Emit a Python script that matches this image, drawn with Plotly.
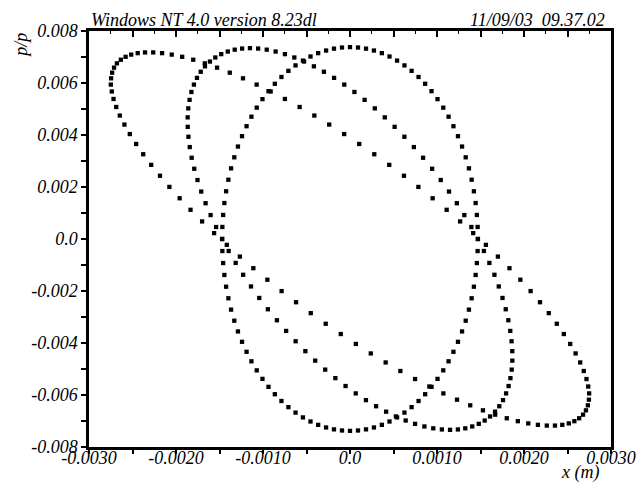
import plotly.graph_objects as go

# Phase-space ellipses: position x (m) against relative momentum p/p
# Ellipse 1: upright ellipse at the waist
x1 = [1.470e-3, 1.467e-3, 1.458e-3, 1.444e-3, 1.424e-3, 1.398e-3, 1.367e-3, 1.330e-3, 1.288e-3, 1.241e-3,
      1.189e-3, 1.133e-3, 1.072e-3, 1.006e-3, 0.937e-3, 0.864e-3, 0.788e-3, 0.708e-3, 0.626e-3, 0.541e-3,
      0.454e-3, 0.366e-3, 0.275e-3, 0.184e-3, 0.092e-3, 0.000e-3,
      -0.092e-3, -0.184e-3, -0.275e-3, -0.366e-3, -0.454e-3, -0.541e-3, -0.626e-3, -0.708e-3, -0.788e-3, -0.864e-3,
      -0.937e-3, -1.006e-3, -1.072e-3, -1.133e-3, -1.189e-3, -1.241e-3, -1.288e-3, -1.330e-3, -1.367e-3, -1.398e-3,
      -1.424e-3, -1.444e-3, -1.458e-3, -1.467e-3, -1.470e-3,
      -1.467e-3, -1.458e-3, -1.444e-3, -1.424e-3, -1.398e-3, -1.367e-3, -1.330e-3, -1.288e-3, -1.241e-3, -1.189e-3,
      -1.133e-3, -1.072e-3, -1.006e-3, -0.937e-3, -0.864e-3, -0.788e-3, -0.708e-3, -0.626e-3, -0.541e-3, -0.454e-3,
      -0.366e-3, -0.275e-3, -0.184e-3, -0.092e-3, 0.000e-3,
      0.092e-3, 0.184e-3, 0.275e-3, 0.366e-3, 0.454e-3, 0.541e-3, 0.626e-3, 0.708e-3, 0.788e-3, 0.864e-3,
      0.937e-3, 1.006e-3, 1.072e-3, 1.133e-3, 1.189e-3, 1.241e-3, 1.288e-3, 1.330e-3, 1.367e-3, 1.398e-3,
      1.424e-3, 1.444e-3, 1.458e-3, 1.467e-3]
y1 = [0.000e-3, 0.463e-3, 0.925e-3, 1.383e-3, 1.835e-3, 2.280e-3, 2.717e-3, 3.142e-3, 3.556e-3, 3.954e-3,
      4.338e-3, 4.704e-3, 5.052e-3, 5.380e-3, 5.686e-3, 5.970e-3, 6.231e-3, 6.467e-3, 6.677e-3, 6.862e-3,
      7.019e-3, 7.148e-3, 7.249e-3, 7.322e-3, 7.365e-3, 7.380e-3,
      7.365e-3, 7.322e-3, 7.249e-3, 7.148e-3, 7.019e-3, 6.862e-3, 6.677e-3, 6.467e-3, 6.231e-3, 5.970e-3,
      5.686e-3, 5.380e-3, 5.052e-3, 4.704e-3, 4.338e-3, 3.954e-3, 3.556e-3, 3.142e-3, 2.717e-3, 2.280e-3,
      1.835e-3, 1.383e-3, 0.925e-3, 0.463e-3, 0.000e-3,
      -0.463e-3, -0.925e-3, -1.383e-3, -1.835e-3, -2.280e-3, -2.717e-3, -3.142e-3, -3.556e-3, -3.954e-3, -4.338e-3,
      -4.704e-3, -5.052e-3, -5.380e-3, -5.686e-3, -5.970e-3, -6.231e-3, -6.467e-3, -6.677e-3, -6.862e-3, -7.019e-3,
      -7.148e-3, -7.249e-3, -7.322e-3, -7.365e-3, -7.380e-3,
      -7.365e-3, -7.322e-3, -7.249e-3, -7.148e-3, -7.019e-3, -6.862e-3, -6.677e-3, -6.467e-3, -6.231e-3, -5.970e-3,
      -5.686e-3, -5.380e-3, -5.052e-3, -4.704e-3, -4.338e-3, -3.954e-3, -3.556e-3, -3.142e-3, -2.717e-3, -2.280e-3,
      -1.835e-3, -1.383e-3, -0.925e-3, -0.463e-3]

# Ellipse 2: strongly tilted ellipse
x2 = [1.416e-3, 1.266e-3, 1.111e-3, 0.950e-3, 0.786e-3, 0.620e-3, 0.451e-3, 0.279e-3, 0.106e-3, -0.067e-3,
      -0.239e-3, -0.410e-3, -0.579e-3, -0.748e-3, -0.912e-3, -1.073e-3, -1.230e-3, -1.382e-3, -1.528e-3, -1.669e-3,
      -1.802e-3, -1.929e-3, -2.049e-3, -2.160e-3, -2.262e-3,
      -2.356e-3, -2.440e-3, -2.515e-3, -2.579e-3, -2.634e-3, -2.679e-3, -2.712e-3, -2.734e-3, -2.746e-3, -2.749e-3,
      -2.738e-3, -2.718e-3, -2.687e-3, -2.646e-3, -2.593e-3, -2.531e-3, -2.458e-3, -2.377e-3, -2.285e-3, -2.184e-3,
      -2.076e-3, -1.958e-3, -1.833e-3, -1.700e-3, -1.562e-3,
      -1.416e-3, -1.266e-3, -1.111e-3, -0.950e-3, -0.786e-3, -0.620e-3, -0.451e-3, -0.279e-3, -0.106e-3, 0.067e-3,
      0.239e-3, 0.410e-3, 0.579e-3, 0.748e-3, 0.912e-3, 1.073e-3, 1.230e-3, 1.382e-3, 1.528e-3, 1.669e-3,
      1.802e-3, 1.929e-3, 2.049e-3, 2.160e-3, 2.262e-3,
      2.356e-3, 2.440e-3, 2.515e-3, 2.579e-3, 2.634e-3, 2.679e-3, 2.712e-3, 2.734e-3, 2.746e-3, 2.749e-3,
      2.738e-3, 2.718e-3, 2.687e-3, 2.646e-3, 2.593e-3, 2.531e-3, 2.458e-3, 2.377e-3, 2.285e-3, 2.184e-3,
      2.076e-3, 1.958e-3, 1.833e-3, 1.700e-3, 1.562e-3]
y2 = [0.226e-3, 0.676e-3, 1.123e-3, 1.566e-3, 2.003e-3, 2.432e-3, 2.851e-3, 3.260e-3, 3.655e-3, 4.036e-3,
      4.401e-3, 4.748e-3, 5.077e-3, 5.386e-3, 5.674e-3, 5.939e-3, 6.180e-3, 6.397e-3, 6.590e-3, 6.756e-3,
      6.895e-3, 7.007e-3, 7.092e-3, 7.148e-3, 7.176e-3,
      7.176e-3, 7.148e-3, 7.092e-3, 7.007e-3, 6.895e-3, 6.756e-3, 6.590e-3, 6.397e-3, 6.180e-3, 5.939e-3,
      5.674e-3, 5.386e-3, 5.077e-3, 4.748e-3, 4.401e-3, 4.036e-3, 3.655e-3, 3.260e-3, 2.851e-3, 2.432e-3,
      2.003e-3, 1.566e-3, 1.123e-3, 0.676e-3, 0.226e-3,
      -0.226e-3, -0.676e-3, -1.123e-3, -1.566e-3, -2.003e-3, -2.432e-3, -2.851e-3, -3.260e-3, -3.655e-3, -4.036e-3,
      -4.401e-3, -4.748e-3, -5.077e-3, -5.386e-3, -5.674e-3, -5.939e-3, -6.180e-3, -6.397e-3, -6.590e-3, -6.756e-3,
      -6.895e-3, -7.007e-3, -7.092e-3, -7.148e-3, -7.176e-3,
      -7.176e-3, -7.148e-3, -7.092e-3, -7.007e-3, -6.895e-3, -6.756e-3, -6.590e-3, -6.397e-3, -6.180e-3, -5.939e-3,
      -5.674e-3, -5.386e-3, -5.077e-3, -4.748e-3, -4.401e-3, -4.036e-3, -3.655e-3, -3.260e-3, -2.851e-3, -2.432e-3,
      -2.003e-3, -1.566e-3, -1.123e-3, -0.676e-3, -0.226e-3]

# Ellipse 3: moderately tilted ellipse
x3 = [1.470e-3, 1.395e-3, 1.314e-3, 1.228e-3, 1.138e-3, 1.043e-3, 0.944e-3, 0.840e-3, 0.734e-3, 0.625e-3,
      0.513e-3, 0.400e-3, 0.285e-3, 0.168e-3, 0.051e-3, -0.066e-3, -0.183e-3, -0.300e-3, -0.415e-3, -0.528e-3,
      -0.640e-3, -0.748e-3, -0.855e-3, -0.957e-3, -1.056e-3, -1.150e-3,
      -1.240e-3, -1.325e-3, -1.405e-3, -1.480e-3, -1.548e-3, -1.610e-3, -1.667e-3, -1.716e-3, -1.759e-3, -1.794e-3,
      -1.823e-3, -1.844e-3, -1.859e-3, -1.866e-3, -1.865e-3, -1.857e-3, -1.842e-3, -1.820e-3, -1.790e-3, -1.753e-3,
      -1.710e-3, -1.660e-3, -1.602e-3, -1.539e-3,
      -1.470e-3, -1.395e-3, -1.314e-3, -1.228e-3, -1.138e-3, -1.043e-3, -0.944e-3, -0.840e-3, -0.734e-3, -0.625e-3,
      -0.513e-3, -0.400e-3, -0.285e-3, -0.168e-3, -0.051e-3, 0.066e-3, 0.183e-3, 0.300e-3, 0.415e-3, 0.528e-3,
      0.640e-3, 0.748e-3, 0.855e-3, 0.957e-3, 1.056e-3, 1.150e-3,
      1.240e-3, 1.325e-3, 1.405e-3, 1.480e-3, 1.548e-3, 1.610e-3, 1.667e-3, 1.716e-3, 1.759e-3, 1.794e-3,
      1.823e-3, 1.844e-3, 1.859e-3, 1.866e-3, 1.865e-3, 1.857e-3, 1.842e-3, 1.820e-3, 1.790e-3, 1.753e-3,
      1.710e-3, 1.660e-3, 1.602e-3, 1.539e-3]
y3 = [0.000e-3, 0.461e-3, 0.920e-3, 1.376e-3, 1.825e-3, 2.268e-3, 2.702e-3, 3.125e-3, 3.536e-3, 3.933e-3,
      4.314e-3, 4.679e-3, 5.024e-3, 5.351e-3, 5.655e-3, 5.938e-3, 6.197e-3, 6.432e-3, 6.641e-3, 6.825e-3,
      6.981e-3, 7.110e-3, 7.210e-3, 7.282e-3, 7.325e-3, 7.340e-3,
      7.325e-3, 7.282e-3, 7.210e-3, 7.110e-3, 6.981e-3, 6.825e-3, 6.641e-3, 6.432e-3, 6.197e-3, 5.938e-3,
      5.655e-3, 5.351e-3, 5.024e-3, 4.679e-3, 4.314e-3, 3.933e-3, 3.536e-3, 3.125e-3, 2.702e-3, 2.268e-3,
      1.825e-3, 1.376e-3, 0.920e-3, 0.461e-3,
      0.000e-3, -0.461e-3, -0.920e-3, -1.376e-3, -1.825e-3, -2.268e-3, -2.702e-3, -3.125e-3, -3.536e-3, -3.933e-3,
      -4.314e-3, -4.679e-3, -5.024e-3, -5.351e-3, -5.655e-3, -5.938e-3, -6.197e-3, -6.432e-3, -6.641e-3, -6.825e-3,
      -6.981e-3, -7.110e-3, -7.210e-3, -7.282e-3, -7.325e-3, -7.340e-3,
      -7.325e-3, -7.282e-3, -7.210e-3, -7.110e-3, -6.981e-3, -6.825e-3, -6.641e-3, -6.432e-3, -6.197e-3, -5.938e-3,
      -5.655e-3, -5.351e-3, -5.024e-3, -4.679e-3, -4.314e-3, -3.933e-3, -3.536e-3, -3.125e-3, -2.702e-3, -2.268e-3,
      -1.825e-3, -1.376e-3, -0.920e-3, -0.461e-3]

# Tick labels
x_tick_vals = [-0.003, -0.002, -0.001, 0.0, 0.001, 0.002, 0.003]
x_tick_text = ["-0.0030", "-0.0020", "-0.0010", "0.0", "0.0010", "0.0020", "0.0030"]
y_tick_vals = [-0.008, -0.006, -0.004, -0.002, 0.0, 0.002, 0.004, 0.006, 0.008]
y_tick_text = ["-0.008", "-0.006", "-0.004", "-0.002", "0.0", "0.002", "0.004", "0.006", "0.008"]

header_left = "Windows NT 4.0 version 8.23dl"
header_right = "11/09/03  09.37.02"
x_title = "x (m)"
y_title = "p/p"

FONT = dict(family="Liberation Serif", size=18, color="black", style="italic")
marker = dict(symbol="square", size=4.3, color="black", line=dict(width=0))

fig = go.Figure()
for xs, ys in ((x1, y1), (x2, y2), (x3, y3)):
    fig.add_trace(go.Scatter(x=xs, y=ys, mode="markers", marker=marker,
                             showlegend=False, hoverinfo="skip"))
# empty trace so the top tick axis is drawn
fig.add_trace(go.Scatter(x=[], y=[], xaxis="x2", showlegend=False))

fig.update_layout(
    width=641, height=482,
    margin=dict(l=89, r=30, t=31, b=35),
    paper_bgcolor="white", plot_bgcolor="white",
    font=FONT,
    xaxis=dict(range=[-0.003, 0.003], tickvals=x_tick_vals, ticktext=x_tick_text,
               ticks="outside", ticklen=4, tickwidth=1.5, tickcolor="black",
               minor=dict(ticks="outside", tickvals=[-0.0025, -0.0015, -0.0005, 0.0005, 0.0015, 0.0025],
                          ticklen=4, tickwidth=1.5, tickcolor="black"),
               showline=True, linewidth=2.5, linecolor="black", mirror=True,
               showgrid=False, zeroline=False, tickfont=FONT, automargin=False,
               ticklabelstandoff=-11),
    xaxis2=dict(range=[-0.003, 0.003], overlaying="x", side="top", anchor="y",
                tick0=0, dtick=0.0005, ticks="inside", ticklen=6, tickwidth=1.5, tickcolor="black",
                minor=dict(ticks="inside", dtick=0.00025, ticklen=3, tickwidth=1.2, tickcolor="black"),
                showticklabels=False, showline=False, showgrid=False, zeroline=False,
                automargin=False),
    yaxis=dict(range=[-0.008, 0.008], tickvals=y_tick_vals, ticktext=y_tick_text,
               ticks="outside", ticklen=5, tickwidth=1.5, tickcolor="black",
               minor=dict(ticks="outside", tickvals=[-0.007, -0.005, -0.003, -0.001, 0.001, 0.003, 0.005, 0.007],
                          ticklen=5, tickwidth=1.5, tickcolor="black"),
               showline=True, linewidth=2.5, linecolor="black", mirror=True,
               showgrid=False, zeroline=False, tickfont=FONT, automargin=False),
    annotations=[
        dict(text=header_left, xref="paper", yref="paper", x=0, y=1, xanchor="left", yanchor="bottom",
             yshift=-1, showarrow=False, font=FONT),
        dict(text=header_right, xref="paper", yref="paper", x=1, y=1, xanchor="right", yanchor="bottom",
             xshift=-4, yshift=-1, showarrow=False, font=FONT),
        dict(text=x_title, xref="paper", yref="paper", x=0.9406, y=0, xanchor="center", yanchor="middle",
             yshift=-25, showarrow=False, font=FONT),
        dict(text=y_title, xref="paper", yref="paper", x=-0.132, y=0.965, xanchor="center", yanchor="middle",
             textangle=-90, showarrow=False, font=FONT),
    ],
)

fig.write_html("out.html")
